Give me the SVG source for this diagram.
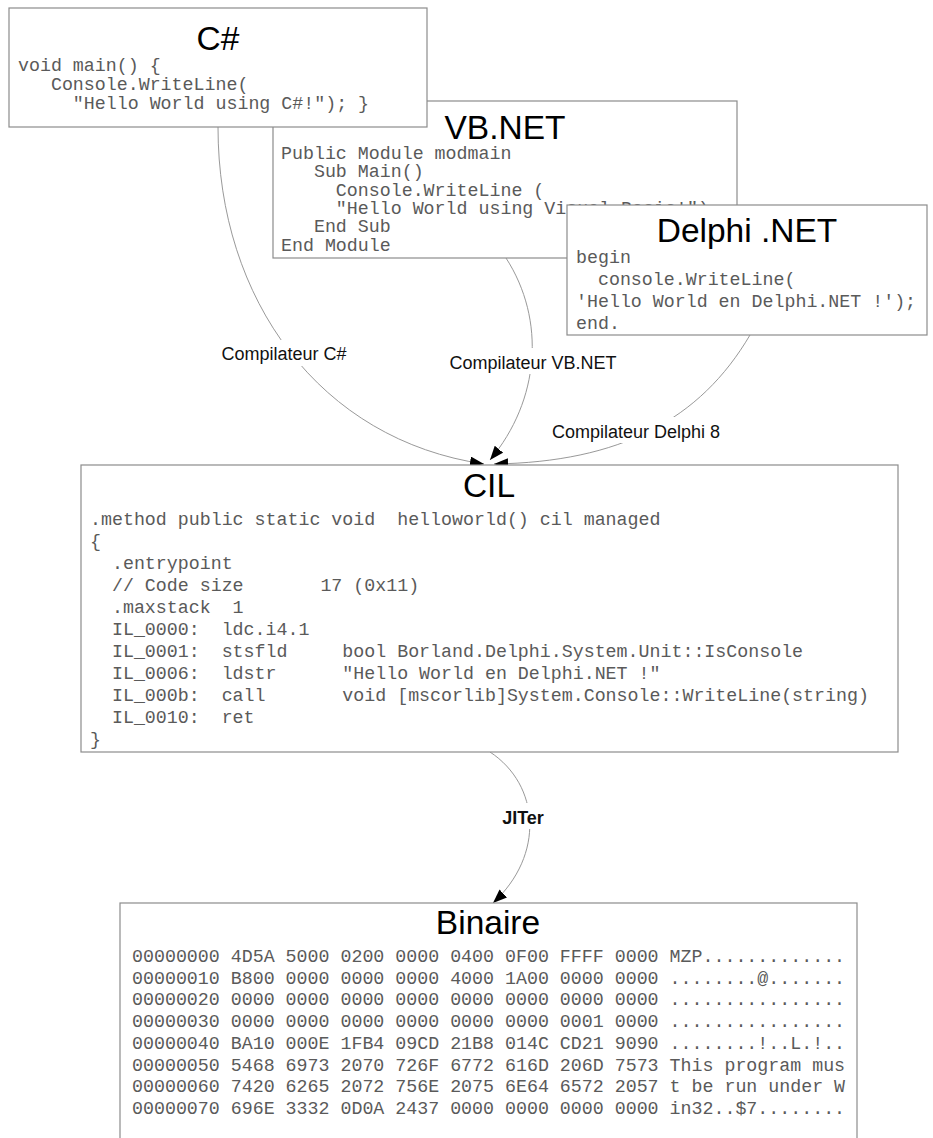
<svg xmlns="http://www.w3.org/2000/svg" width="933" height="1138" viewBox="0 0 933 1138">
<style>
.box{fill:#fff;stroke:#8c8c8c;stroke-width:1.2}
.title{font-family:"Liberation Sans",Arial,sans-serif;font-size:33.5px;fill:#000;text-anchor:middle}
.code{font-family:"Liberation Mono","Courier New",monospace;font-size:18.3px;fill:#5a5a5a;white-space:pre}
.lbl{font-family:"Liberation Sans",Arial,sans-serif;font-size:18px;fill:#111;text-anchor:middle}
.lblb{font-family:"Liberation Sans",Arial,sans-serif;font-size:18px;font-weight:bold;fill:#111;text-anchor:middle}
.conn{fill:none;stroke:#999;stroke-width:1}
.lblbg{fill:#fff}
</style>
<defs>
<marker id="arr" markerUnits="userSpaceOnUse" markerWidth="15" markerHeight="12" refX="14" refY="5.5" orient="auto">
<path d="M0,0 L14,5.5 L0,11 Z" fill="#000"/>
</marker>
</defs>

<g id="connectors">
<path class="conn" d="M218,127 C218,300 320,440 484,464" marker-end="url(#arr)"/>
<path class="conn" d="M506,258 C546,320 540,400 490,460" marker-end="url(#arr)"/>
<path class="conn" d="M750,335 C700,420 620,462 494,464" marker-end="url(#arr)"/>
<path class="conn" d="M490,752 C540,785 545,855 493,903" marker-end="url(#arr)"/>
<rect class="lblbg" x="216" y="340" width="136" height="26"/>
<text class="lbl" x="284" y="360">Compilateur C#</text>
<rect class="lblbg" x="446" y="348" width="174" height="26"/>
<text class="lbl" x="533" y="369">Compilateur VB.NET</text>
<rect class="lblbg" x="548" y="417" width="176" height="26"/>
<text class="lbl" x="636" y="438">Compilateur Delphi 8</text>
<rect class="lblbg" x="497" y="803" width="52" height="26"/>
<text class="lblb" x="523" y="824">JITer</text>
</g>

<g id="node-vbnet">
<rect class="box" x="273" y="101" width="464" height="157"/>
<text class="title" x="505" y="139">VB.NET</text>
<text class="code" x="281" y="159">Public Module modmain</text>
<text class="code" x="281" y="177">   Sub Main()</text>
<text class="code" x="281" y="196">     Console.WriteLine (</text>
<text class="code" x="281" y="214">     "Hello World using Visual Basic!")</text>
<text class="code" x="281" y="232">   End Sub</text>
<text class="code" x="281" y="251">End Module</text>
</g>

<g id="node-csharp">
<rect class="box" x="9" y="8" width="418" height="119"/>
<text class="title" x="218" y="50">C#</text>
<text class="code" x="18" y="71">void main() {</text>
<text class="code" x="18" y="90">   Console.WriteLine(</text>
<text class="code" x="18" y="109">     "Hello World using C#!"); }</text>
</g>

<g id="node-delphi">
<rect class="box" x="567" y="205" width="360" height="130"/>
<text class="title" x="747" y="242">Delphi .NET</text>
<text class="code" x="576" y="263">begin</text>
<text class="code" x="576" y="285">  console.WriteLine(</text>
<text class="code" x="576" y="307">'Hello World en Delphi.NET !');</text>
<text class="code" x="576" y="329">end.</text>
</g>

<g id="node-cil">
<rect class="box" x="81" y="465" width="817" height="287"/>
<text class="title" x="489" y="497">CIL</text>
<text class="code" x="90" y="525">.method public static void  helloworld() cil managed</text>
<text class="code" x="90" y="547">{</text>
<text class="code" x="90" y="569">  .entrypoint</text>
<text class="code" x="90" y="591">  // Code size       17 (0x11)</text>
<text class="code" x="90" y="613">  .maxstack  1</text>
<text class="code" x="90" y="635">  IL_0000:  ldc.i4.1</text>
<text class="code" x="90" y="657">  IL_0001:  stsfld     bool Borland.Delphi.System.Unit::IsConsole</text>
<text class="code" x="90" y="679">  IL_0006:  ldstr      "Hello World en Delphi.NET !"</text>
<text class="code" x="90" y="701">  IL_000b:  call       void [mscorlib]System.Console::WriteLine(string)</text>
<text class="code" x="90" y="723">  IL_0010:  ret</text>
<text class="code" x="90" y="745">}</text>
</g>

<g id="node-binaire">
<rect class="box" x="120" y="903" width="737" height="260"/>
<text class="title" x="488" y="934">Binaire</text>
<text class="code" x="132" y="962">00000000 4D5A 5000 0200 0000 0400 0F00 FFFF 0000 MZP.............</text>
<text class="code" x="132" y="984">00000010 B800 0000 0000 0000 4000 1A00 0000 0000 ........@.......</text>
<text class="code" x="132" y="1005">00000020 0000 0000 0000 0000 0000 0000 0000 0000 ................</text>
<text class="code" x="132" y="1027">00000030 0000 0000 0000 0000 0000 0000 0001 0000 ................</text>
<text class="code" x="132" y="1049">00000040 BA10 000E 1FB4 09CD 21B8 014C CD21 9090 ........!..L.!..</text>
<text class="code" x="132" y="1071">00000050 5468 6973 2070 726F 6772 616D 206D 7573 This program mus</text>
<text class="code" x="132" y="1092">00000060 7420 6265 2072 756E 2075 6E64 6572 2057 t be run under W</text>
<text class="code" x="132" y="1114">00000070 696E 3332 0D0A 2437 0000 0000 0000 0000 in32..$7........</text>
</g>
</svg>
